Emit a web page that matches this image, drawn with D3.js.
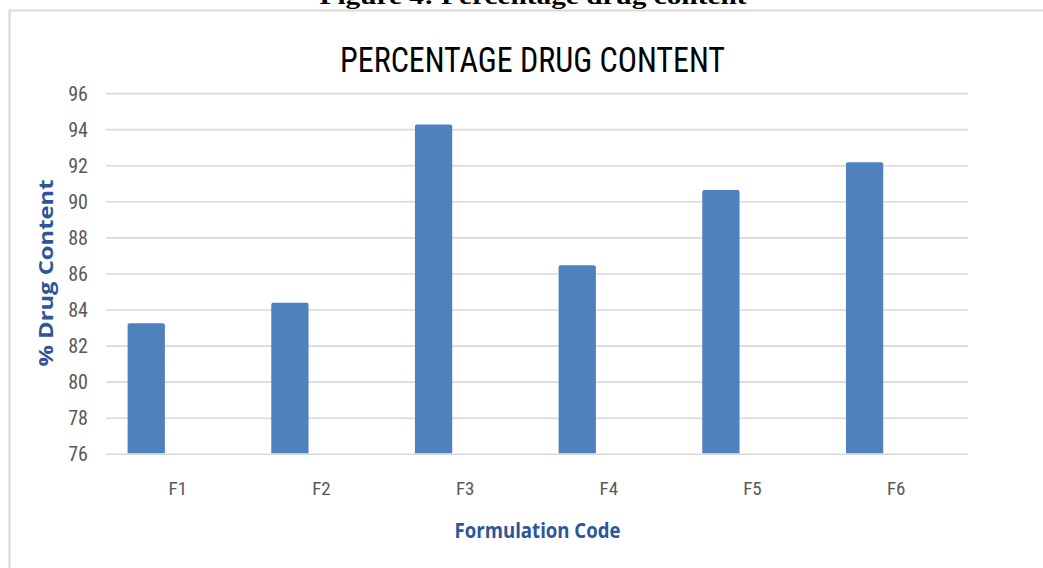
<!DOCTYPE html>
<html>
<head>
<meta charset="utf-8">
<script src="https://cdn.jsdelivr.net/npm/d3@7"></script>
<style>
  html, body { margin: 0; padding: 0; background: #ffffff; }
  svg { display: block; }
</style>
</head>
<body>
<svg id="chart" width="1043" height="568"></svg>
<script>
// Drug content per formulation
const categories = ["F1", "F2", "F3", "F4", "F5", "F6"];
const drugContent = [83.27, 84.41, 94.28, 86.48, 90.66, 92.2];
const seriesNames = ["Drug content", "Series 2"];
const yTicks = [76, 78, 80, 82, 84, 86, 88, 90, 92, 94, 96];

const svg = d3.select("#chart");
const W = 1043, H = 568;
const plot = { left: 106, right: 968, top: 93.6, bottom: 454.3 };
const narrow = "'Liberation Sans Narrow', 'Roboto Condensed', 'Open Sans', sans-serif";

// Figure caption above the chart frame
svg.append("text")
  .attr("x", 533).attr("y", 4)
  .attr("text-anchor", "middle")
  .attr("font-family", "'Liberation Serif', 'Times New Roman', serif")
  .attr("font-weight", "bold")
  .attr("font-size", 24)
  .attr("textLength", 427).attr("lengthAdjust", "spacingAndGlyphs")
  .attr("fill", "#000")
  .text("Figure 4: Percentage drug content");

// Chart frame
svg.append("path")
  .attr("d", `M9.5,${H + 2} V10.5 H${W + 2}`)
  .attr("fill", "none")
  .attr("stroke", "#d9d9d9")
  .attr("stroke-width", 2.2);

// Scales
const x0 = d3.scaleBand().domain(categories).range([plot.left, plot.right]).padding(0);
const x1 = d3.scaleBand().domain(seriesNames).range([0, x0.bandwidth()])
  .paddingInner(0.41).paddingOuter(0.342);
const y = d3.scaleLinear().domain([76, 96]).range([plot.bottom, plot.top]);

// Gridlines
svg.append("g")
  .selectAll("line")
  .data(yTicks)
  .join("line")
  .attr("x1", plot.left).attr("x2", plot.right)
  .attr("y1", d => y(d)).attr("y2", d => y(d))
  .attr("stroke", "#d9d9d9")
  .attr("stroke-width", 1.6);

// Y axis tick labels
const yAxis = d3.axisLeft(y).tickValues(yTicks).tickSize(0).tickPadding(0);
const gy = svg.append("g").attr("transform", `translate(88,0)`).call(yAxis);
gy.select(".domain").remove();
gy.selectAll("text")
  .attr("font-family", narrow)
  .attr("font-size", 20)
  .attr("fill", "#595959");

// X axis category labels
const xAxis = d3.axisBottom(x0).tickSize(0).tickPadding(0);
const gx = svg.append("g").attr("transform", `translate(0,481)`).call(xAxis);
gx.select(".domain").remove();
gx.selectAll("text")
  .attr("font-family", narrow)
  .attr("font-size", 19)
  .attr("fill", "#595959");

// Bars with slightly rounded tops
const r = 2;
svg.append("g")
  .selectAll("path")
  .data(categories.map((c, i) => ({ c, v: drugContent[i] })))
  .join("path")
  .attr("fill", "#4f81bd")
  .attr("d", d => {
    const bx = x0(d.c) + x1(seriesNames[0]);
    const bw = x1.bandwidth();
    const top = y(d.v);
    const base = plot.bottom - 1;
    return `M${bx},${base} V${top + r} Q${bx},${top} ${bx + r},${top} H${bx + bw - r} Q${bx + bw},${top} ${bx + bw},${top + r} V${base} Z`;
  });

// Chart title
svg.append("text")
  .attr("x", 532.5).attr("y", 72)
  .attr("text-anchor", "middle")
  .attr("font-family", narrow)
  .attr("font-size", 35)
  .attr("textLength", 385).attr("lengthAdjust", "spacingAndGlyphs")
  .attr("fill", "#000")
  .text("PERCENTAGE DRUG CONTENT");

// Axis titles
svg.append("text")
  .attr("x", 537.5).attr("y", 538)
  .attr("text-anchor", "middle")
  .attr("font-family", "'Open Sans', sans-serif")
  .attr("font-weight", "bold")
  .attr("font-size", 21)
  .attr("textLength", 166).attr("lengthAdjust", "spacingAndGlyphs")
  .attr("fill", "#2f5597")
  .text("Formulation Code");

svg.append("text")
  .attr("transform", "translate(53,273) rotate(-90)")
  .attr("text-anchor", "middle")
  .attr("font-family", "'Open Sans', sans-serif")
  .attr("font-weight", "bold")
  .attr("font-size", 20)
  .attr("textLength", 187).attr("lengthAdjust", "spacingAndGlyphs")
  .attr("fill", "#2f5597")
  .text("% Drug Content");
</script>
</body>
</html>
